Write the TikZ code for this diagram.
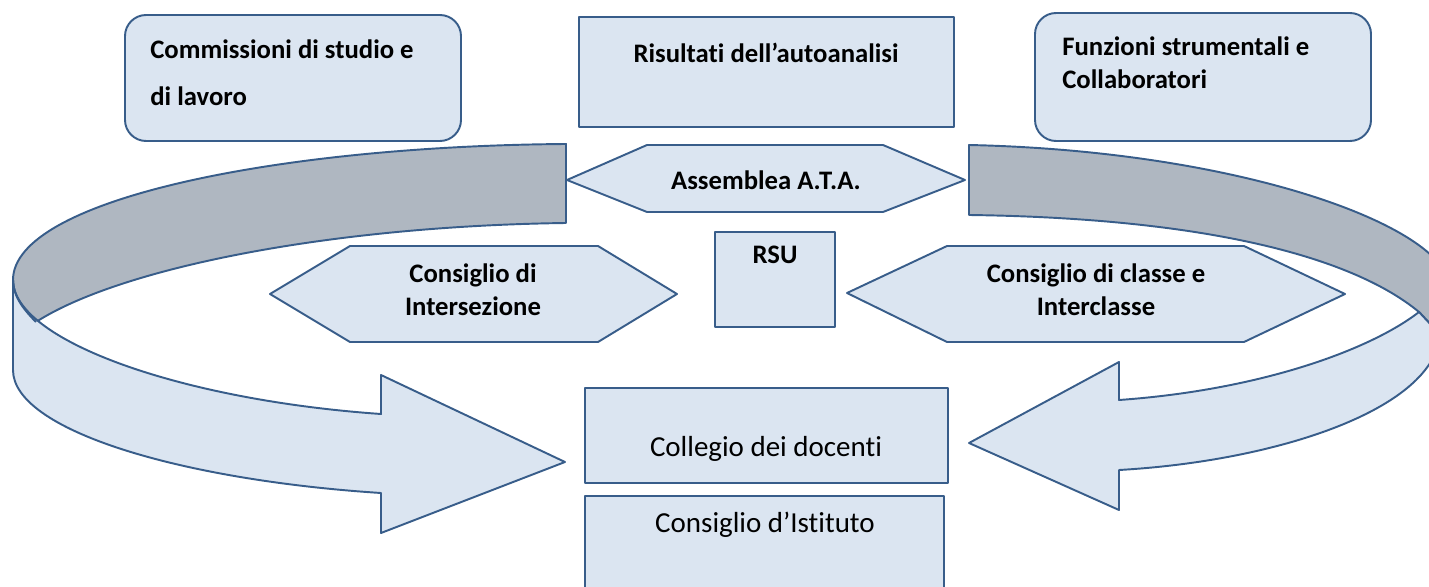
\documentclass[tikz,border=0pt]{standalone}
\usepackage{fontspec}
\setmainfont{Carlito}[Ligatures = NoCommon]
\definecolor{boxfill}{RGB}{219,229,241}
\definecolor{boxline}{RGB}{56,93,138}
\definecolor{bandgray}{RGB}{175,183,193}
\begin{document}
\begin{tikzpicture}[x=0.02cm, y=-0.02cm,
    panel/.style    = {draw = boxline, fill = boxfill, line width = 1.1pt, line join = round},
    backband/.style = {draw = boxline, fill = bandgray, line width = 1.1pt, line join = round},
    boldtext/.style = {font = \bfseries\fontsize{15.2}{19}\selectfont, inner sep = 0pt},
    lighttext/.style = {font = \fontsize{16.5}{20}\selectfont, inner sep = 0pt}]
    \useasboundingbox (0,0) rectangle (1429,587);
    \clip (0,0) rectangle (1429,587);

    % left ribbon
    \draw (566,144) -- (566,223) .. controls (330,226) and (120,268) .. (36,322)
        .. controls (22,308) and (13,295) .. (13,280)
        .. controls (13,200) and (276,146) .. (566,144) -- cycle [backband];
    \draw (13,280) .. controls (13,340) and (180,400) .. (381,414) -- (381,375) -- (565,462)
        -- (381,533) -- (381,493) .. controls (180,480) and (13,430) .. (13,370) -- cycle [panel];
    \draw (36,322) .. controls (22,308) and (13,295) .. (13,280) [boxline, line width = 1.1pt];

    % right ribbon
    \draw (969,145) -- (969,215) .. controls (1200,218) and (1350,255) .. (1419,312)
        -- (1433,327) -- (1433,257) .. controls (1380,205) and (1200,150) .. (969,145) -- cycle [backband];
    \draw (1433,327) -- (1419,312) .. controls (1370,350) and (1260,390) .. (1119,400) -- (1119,362)
        -- (969,443) -- (1119,510) -- (1119,470) .. controls (1260,462) and (1400,420) .. (1433,358)
        -- cycle [panel];

    % boxes at the top
    \draw[panel, rounded corners = 12pt] (125,15) rectangle (461,141);
    \node[boldtext, anchor = west, align = left, font = \bfseries\fontsize{15.2}{26.7}\selectfont]
        (commissioni) at (150,73) {Commissioni di studio e\\di lavoro};
    \draw (579,17) rectangle (954,127) [panel];
    \node[boldtext] (risultati) at (766,53) {Risultati dell’autoanalisi};
    \draw[panel, rounded corners = 12pt] (1035,13) rectangle (1371,141);
    \node[boldtext, anchor = west, align = left] (funzioni) at (1062,63) {Funzioni strumentali e\\Collaboratori};

    % middle row
    \draw (567,180) -- (647,145) -- (883,145) -- (965,180) -- (883,212) -- (647,212) -- cycle [panel];
    \node[boldtext] (assemblea) at (766,180) {Assemblea A.T.A.};
    \draw (270,294) -- (350,246) -- (598,246) -- (677,294) -- (598,342) -- (350,342) -- cycle [panel];
    \node[boldtext, align = center] (intersezione) at (473,290) {Consiglio di\\Intersezione};
    \draw (715,232) rectangle (835,327) [panel];
    \node[boldtext] (rsu) at (775,255) {RSU};
    \draw (847,293) -- (947,246) -- (1244,246) -- (1345,294) -- (1244,342) -- (947,342) -- cycle [panel];
    \node[boldtext, align = center] (interclasse) at (1096,290) {Consiglio di classe e\\Interclasse};

    % bottom
    \draw (585,388) rectangle (948,483) [panel];
    \node[lighttext] (collegio) at (766,449) {Collegio dei docenti};
    \draw (585,496) rectangle (944,600) [panel];
    \node[lighttext] (istituto) at (765,525) {Consiglio d’Istituto};
\end{tikzpicture}
\end{document}
